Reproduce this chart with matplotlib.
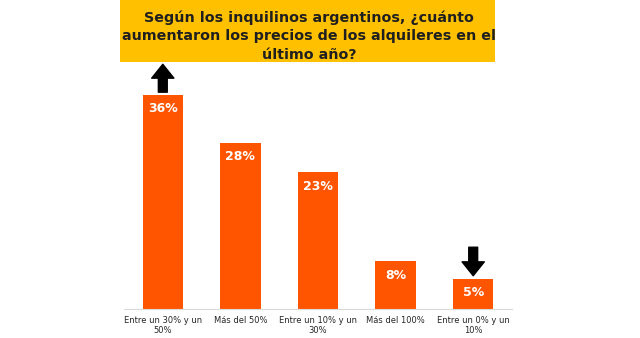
import matplotlib
matplotlib.use("Agg")
from matplotlib import pyplot as plt
from matplotlib.patches import Rectangle

# data
categories = ["Entre un 30% y un\n50%", "Más del 50%", "Entre un 10% y un\n30%",
              "Más del 100%", "Entre un 0% y un\n10%"]
values = [36, 28, 23, 8, 5]
value_labels = ["36%", "28%", "23%", "8%", "5%"]
title = "Según los inquilinos argentinos, ¿cuánto\naumentaron los precios de los alquileres en el\núltimo año?"

W, H = 640, 338
fig = plt.figure(figsize=(W / 100, H / 100), dpi=100)
fig.patch.set_facecolor("white")

# title box
fig.patches.append(Rectangle((120 / W, 1 - 62 / H), 375 / W, 62 / H,
                             transform=fig.transFigure, facecolor="#FFC000",
                             edgecolor="none", zorder=0))
fig.text(309 / W, 1 - 36 / H, title, ha="center", va="center", fontsize=10.3,
         fontweight="bold", family="DejaVu Sans", color="#1f1f1f", linespacing=1.42)

ax = fig.add_axes([124 / W, 1 - 309 / H, 388 / W, 237.6 / H])
x = range(len(values))
ax.bar(x, values, width=0.52, color="#FF5500", zorder=2)
ax.set_xlim(-0.5, len(values) - 0.5)
ax.set_ylim(0, 40)

for i, (v, lab) in enumerate(zip(values, value_labels)):
    ax.text(i, v - 2.3, lab, ha="center", va="center", color="white",
            fontsize=9, fontweight="bold", family="DejaVu Sans")

# arrows
arrow_style = "simple,head_length=0.5,head_width=0.8,tail_width=0.32"
ax.annotate("", xy=(0, 41.2), xytext=(0, 36.5), annotation_clip=False,
            arrowprops=dict(arrowstyle=arrow_style, color="black",
                            mutation_scale=20, shrinkA=0, shrinkB=0))
ax.annotate("", xy=(4, 5.6), xytext=(4, 10.4), annotation_clip=False,
            arrowprops=dict(arrowstyle=arrow_style, color="black",
                            mutation_scale=20, shrinkA=0, shrinkB=0))

ax.set_xticks(list(x))
ax.set_xticklabels(categories, fontsize=6, color="#262626", family="DejaVu Sans",
                   linespacing=1.2)
ax.tick_params(axis="x", length=0, pad=5)
ax.set_yticks([])
for s in ["top", "left", "right"]:
    ax.spines[s].set_visible(False)
ax.spines["bottom"].set_color("#d9d9d9")
ax.spines["bottom"].set_linewidth(0.8)

fig.savefig("out.png", dpi=100)
